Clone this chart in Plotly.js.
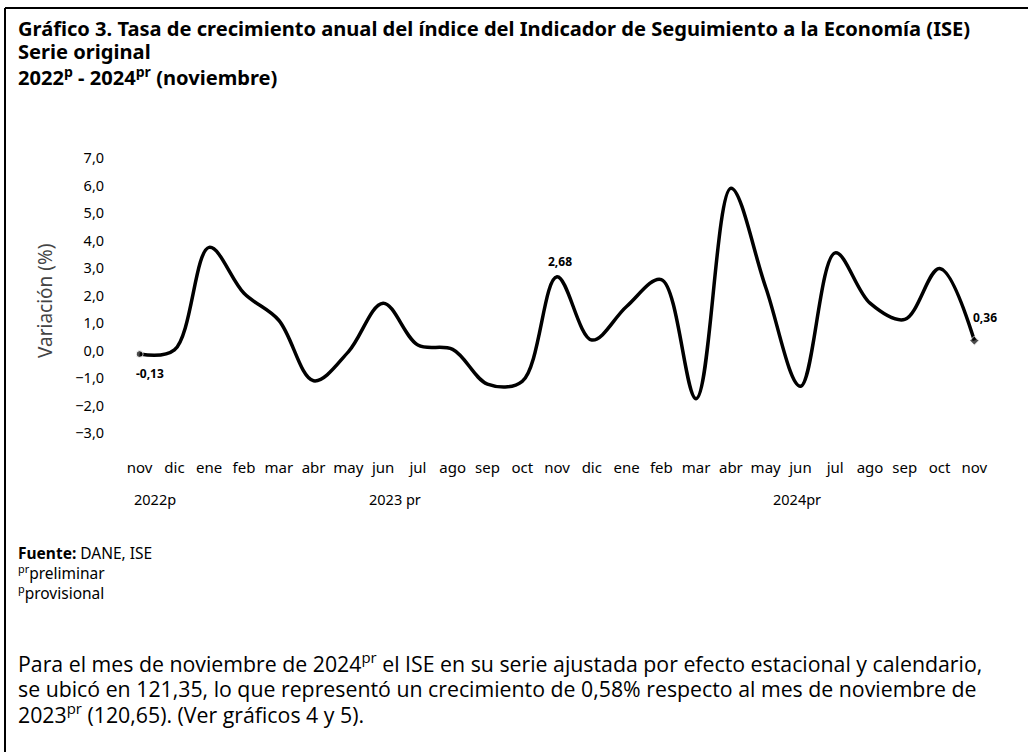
<!DOCTYPE html>
<html>
<head>
<meta charset="utf-8">
<script src="https://cdn.plot.ly/plotly-3.0.1.min.js"></script>
<style>
  body { margin: 0; background: #fff; }
  #chart { width: 1028px; height: 752px; }
</style>
</head>
<body>
<div id="chart"></div>
<script>
// months nov 2022 - nov 2024
var months = ["nov","dic","ene","feb","mar","abr","may","jun","jul","ago","sep","oct",
              "nov","dic","ene","feb","mar","abr","may","jun","jul","ago","sep","oct","nov"];
// annual growth of ISE (%)
var growth = [-0.13, 0.02, 3.75, 2.08, 1.10, -1.10, -0.05, 1.72, 0.20, 0.04, -1.22, -1.12,
              2.68, 0.38, 1.60, 2.58, -1.75, 5.90, 2.30, -1.30, 3.55, 1.72, 1.13, 2.98, 0.36];
var labelled = [0, 12, 24];
var yearLabels = ["2022p", "2023 pr", "2024pr"];
var yearPos = [-0.22, 7.34, 18.9];

var W = 1028, H = 752, L = 124, R = 38, T = 158, B = 319;
var pw = W - L - R, ph = H - T - B;
function px(x) { return (x - L) / pw; }
function py(y) { return (H - B - y) / ph; }

var xs = months.map((m, i) => i);

var trace = {
  x: xs,
  y: growth,
  type: "scatter",
  mode: "lines+markers",
  line: { color: "#000", width: 3.5, shape: "spline", smoothing: 1 },
  marker: {
    color: "#000",
    size: xs.map(i => (i === 0 || i === xs.length - 1) ? 7 : 0),
    symbol: xs.map(i => i === xs.length - 1 ? "diamond" : "circle")
  },
  hoverinfo: "skip"
};

var fnt = "Noto Sans, Open Sans, sans-serif";

function fmt(v) { return v.toFixed(2).replace(".", ","); }

var annotations = [];

// point labels
var offs = { 0: [10, 19], 12: [3, -15], 24: [11, -23] };
labelled.forEach(function (i) {
  annotations.push({
    x: i, y: growth[i], xref: "x", yref: "y",
    text: "<b>" + fmt(growth[i]) + "</b>", showarrow: false,
    xshift: offs[i][0], yshift: -offs[i][1],
    font: { family: fnt, size: 12, color: "#000" }
  });
});

// year labels
yearLabels.forEach(function (t, k) {
  annotations.push({
    x: yearPos[k], y: py(499), xref: "x", yref: "paper",
    text: t, showarrow: false, xanchor: k === 0 ? "left" : "center", yanchor: "middle",
    font: { family: fnt, size: 14.5, color: "#000" }
  });
});

// y axis title
annotations.push({
  x: px(45), y: py(301), xref: "paper", yref: "paper",
  xanchor: "center", yanchor: "middle",
  text: "Variación (%)", textangle: -90, showarrow: false,
  font: { family: fnt, size: 19, color: "#444" }
});

// title
var titleLines = [
  "Gráfico 3. Tasa de crecimiento anual del índice del Indicador de Seguimiento a la Economía (ISE)",
  "Serie original",
  "2022<sup>p</sup> - 2024<sup>pr</sup> (noviembre)"
];
var titleY = [28, 52, 76];
titleLines.forEach(function (t, k) {
  annotations.push({
    x: px(16), y: py(titleY[k]), xref: "paper", yref: "paper",
    xanchor: "left", yanchor: "middle", showarrow: false,
    text: "<b>" + t + "</b>",
    font: { family: fnt, size: 20.1, color: "#000" }
  });
});

// notes
annotations.push({
  x: px(16), y: py(540), xref: "paper", yref: "paper",
  xanchor: "left", yanchor: "top", align: "left", showarrow: false,
  text: "<b>Fuente:</b> DANE, ISE<br><sup>pr</sup>preliminar<br><sup>p</sup>provisional",
  font: { family: fnt, size: 15.5, color: "#000" }
});

// paragraph
var para = [
  "Para el mes de noviembre de 2024<sup>pr</sup> el ISE en su serie ajustada por efecto estacional y calendario,",
  "se ubicó en 121,35, lo que representó un crecimiento de 0,58% respecto al mes de noviembre de",
  "2023<sup>pr</sup> (120,65). (Ver gráficos 4 y 5)."
];
var paraY = [662, 688, 713];
para.forEach(function (t, k) {
  annotations.push({
    x: px(16), y: py(paraY[k]), xref: "paper", yref: "paper",
    xanchor: "left", yanchor: "middle", showarrow: false, text: t,
    font: { family: "Open Sans, sans-serif", size: 21.3, color: "#000" }
  });
});

var layout = {
  width: W,
  height: H,
  margin: { l: L, r: R, t: T, b: B },
  paper_bgcolor: "#fff",
  plot_bgcolor: "#fff",
  showlegend: false,
  separators: ",.",
  xaxis: {
    range: [-0.45, 24.45],
    tickvals: xs,
    ticktext: months,
    ticks: "outside",
    ticklen: 21,
    tickcolor: "rgba(0,0,0,0)",
    showgrid: false,
    zeroline: false,
    showline: false,
    tickfont: { family: fnt, size: 15, color: "#000" }
  },
  yaxis: {
    range: [-3, 7],
    dtick: 1,
    tickformat: ".1f",
    ticks: "outside",
    ticklen: 16,
    tickcolor: "rgba(0,0,0,0)",
    showgrid: false,
    zeroline: false,
    showline: false,
    tickfont: { family: fnt, size: 14.5, color: "#000" }
  },
  annotations: annotations,
  shapes: [
    { type: "line", xref: "paper", yref: "paper", x0: px(5), x1: px(1028), y0: py(8), y1: py(8),
      line: { color: "#000", width: 2 } },
    { type: "line", xref: "paper", yref: "paper", x0: px(5), x1: px(5), y0: py(8), y1: py(752),
      line: { color: "#000", width: 2 } }
  ]
};

Plotly.newPlot("chart", [trace], layout, { displayModeBar: false, staticPlot: true });
</script>
</body>
</html>
